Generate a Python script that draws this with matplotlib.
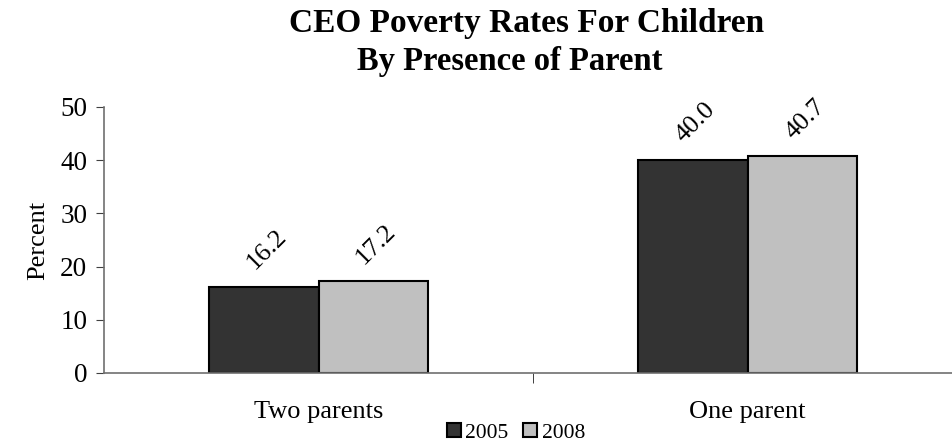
import matplotlib
matplotlib.use("Agg")
import matplotlib.pyplot as plt
import numpy as np

categories = ["Two parents", "One parent"]
years = ["2005", "2008"]
rates_2005 = [16.2, 40.0]
rates_2008 = [17.2, 40.7]

plt.rcParams['font.family'] = ['Liberation Serif', 'DejaVu Serif']

fig = plt.figure(figsize=(9.53, 4.46), dpi=100)
ax = fig.add_axes([104/953, 1 - 373/446, 849/953, (373 - 107)/446])

x = np.arange(len(categories))
w = 0.256
colors = ['#333333', '#c0c0c0']
bars_a = ax.bar(x - w/2, rates_2005, w, color=colors[0], edgecolor='black', linewidth=1.5, label=years[0])
bars_b = ax.bar(x + w/2, rates_2008, w, color=colors[1], edgecolor='black', linewidth=1.5, label=years[1])

# rotated value labels above each bar
for bars, vals in [(bars_a, rates_2005), (bars_b, rates_2008)]:
    for b, v in zip(bars, vals):
        ax.annotate('%.1f' % v, (b.get_x() + b.get_width()/2, v),
                    xytext=(2, 27), textcoords='offset points',
                    ha='center', va='center', rotation=45, fontsize=19)

ax.set_xlim(-0.5, 1.479)
ax.set_ylim(0, 50)
ax.set_yticks(range(0, 51, 10))
ax.tick_params(axis='y', labelsize=19.5, length=6, color='#404040', direction='out', pad=6)
ax.set_xticks(x)
ax.set_xticklabels(categories, fontsize=19)
ax.tick_params(axis='x', which='major', length=0, pad=20)
ax.set_xticks([0.5], minor=True)
ax.tick_params(axis='x', which='minor', length=7, color='#202020', direction='out')

for s in ['top', 'right']:
    ax.spines[s].set_visible(False)
for s in ['left', 'bottom']:
    ax.spines[s].set_color('#707070')
    ax.spines[s].set_linewidth(1.2)

ax.set_ylabel('Percent', fontsize=19, labelpad=8)

fig.text(527/953, 1 - 32/446, 'CEO Poverty Rates For Children', ha='center', va='baseline',
         fontsize=24, fontweight='bold')
fig.text(510/953, 1 - 70/446, 'By Presence of Parent', ha='center', va='baseline',
         fontsize=23.5, fontweight='bold')

fig.legend(loc='center', bbox_to_anchor=(516/953, 1 - 433/446), ncol=2, frameon=False,
           fontsize=15.5, handlelength=0.65, handleheight=0.65, handletextpad=0.2,
           columnspacing=0.7, borderpad=0)

fig.savefig('out.png', dpi=100)
